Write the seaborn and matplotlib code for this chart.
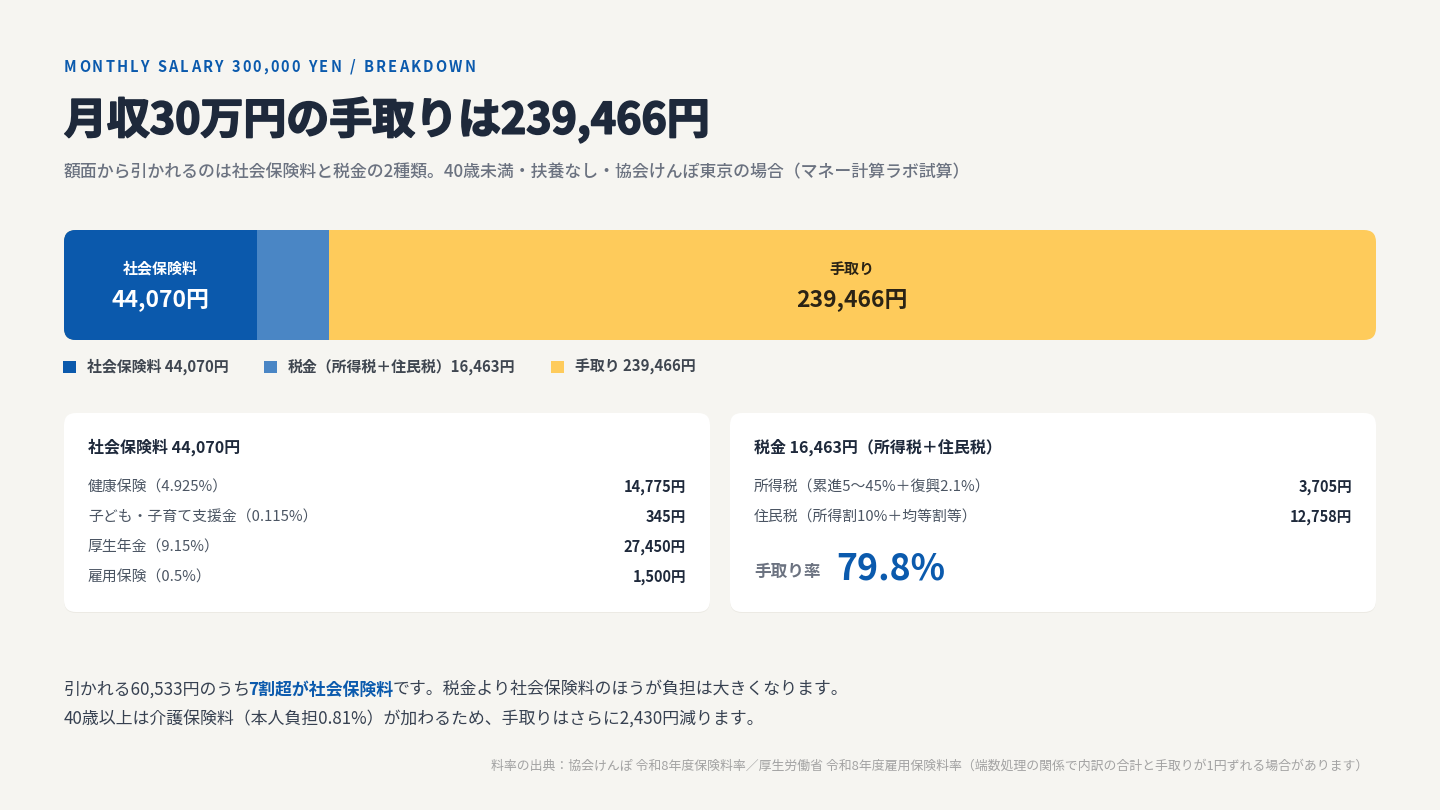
import pandas as pd
import seaborn as sns
import matplotlib.pyplot as plt
import matplotlib.patheffects as pe
from matplotlib.patches import FancyBboxPatch, Patch

sns.set_theme(style='white')
plt.rcParams['font.family'] = ['Noto Sans CJK JP', 'DejaVu Sans']

# data
segments = ['社会保険料', '税金', '手取り']
amounts = [44070, 16463, 239466]
legend_labels = ['社会保険料 44,070円', '税金（所得税＋住民税）16,463円', '手取り 239,466円']
colors = ['#0B59AC', '#4A86C5', '#FECB5B']

shakai_items = ['健康保険（4.925%）', '子ども・子育て支援金（0.115%）', '厚生年金（9.15%）', '雇用保険（0.5%）']
shakai_values = [14775, 345, 27450, 1500]
tax_items = ['所得税（累進5〜45%＋復興2.1%）', '住民税（所得割10%＋均等割等）']
tax_values = [3705, 12758]
net_rate = 79.8

BG = '#F6F5F1'
NAVY = '#1E293B'
BLUE = '#0B5AAD'
GRAY = '#6B7280'
TEXT = '#374151'

fig = plt.figure(figsize=(14.4, 8.1), dpi=100, facecolor=BG)

# overlay axes in pixel units
ax = fig.add_axes([0, 0, 1, 1], zorder=2)
ax.set_xlim(0, 1440)
ax.set_ylim(810, 0)
ax.axis('off')
ax.patch.set_alpha(0)

# ---- header
def spaced(x, y, s, spacing, **kw):
    prev = None
    gap = 0
    for ch in s:
        if ch == ' ':
            gap += 4.5
            continue
        if prev is None:
            prev = ax.text(x, y, ch, va='center', ha='left', **kw)
        else:
            prev = ax.annotate(ch, xy=(1, 0.5), xycoords=prev, xytext=(spacing + gap, 0),
                               textcoords='offset points', va='center', ha='left', **kw)
        gap = 0

spaced(64, 67, 'MONTHLY SALARY 300,000 YEN / BREAKDOWN', 1.55,
       fontsize=10.5, fontweight='bold', color=BLUE)
ax.text(64, 120, '月収30万円の手取りは239,466円', fontsize=30.9, fontweight='bold',
        color=NAVY, va='center', ha='left',
        path_effects=[pe.Stroke(linewidth=1.3, foreground=NAVY), pe.Normal()])
ax.text(64, 172, '額面から引かれるのは社会保険料と税金の2種類。40歳未満・扶養なし・協会けんぽ東京の場合（マネー計算ラボ試算）',
        fontsize=12.2, fontweight='medium', color=GRAY, va='center', ha='left')

# ---- stacked bar
bax = fig.add_axes([64 / 1440, (810 - 340) / 810, 1312 / 1440, 110 / 810], zorder=1)
df = pd.DataFrame({'segment': segments, 'amount': amounts})
df['end'] = df['amount'].cumsum()
df['start'] = df['end'] - df['amount']
for i in reversed(range(len(df))):
    sns.barplot(x=[df['end'][i]], y=['月収'], color=colors[i], saturation=1,
                width=1, orient='h', linewidth=0, ax=bax)
bax.set_xlim(0, df['end'].iloc[-1])
bax.set_ylim(0.5, -0.5)
bax.axis('off')
clip = FancyBboxPatch((64, 230), 1312, 110, boxstyle='round,pad=0,rounding_size=12',
                      transform=ax.transData)
for p in bax.patches:
    p.set_clip_path(clip)

for i, row in df.iterrows():
    if row['segment'] == '税金':
        continue
    c = 'white' if i == 0 else '#2A2315'
    mid = row['start'] + row['amount'] / 2
    bax.text(mid, -0.15, row['segment'], color=c, fontsize=10.8, fontweight='bold',
             ha='center', va='center')
    bax.text(mid, 0.13, f"{row['amount']:,}円", color=c, fontsize=16.5, fontweight='bold',
             ha='center', va='center')

# ---- legend
handles = [Patch(facecolor=c, edgecolor='none') for c in colors]
fig.legend(handles, legend_labels, loc='center left', bbox_to_anchor=(63 / 1440, 1 - 367 / 810),
           ncol=3, frameon=False, handlelength=0.87, handleheight=0.87, handletextpad=0.72,
           columnspacing=2.4, borderpad=0, borderaxespad=0, labelcolor='#3F4650',
           prop={'size': 10.75, 'weight': 'bold'})

# ---- cards
for x0 in (64, 730):
    ax.add_patch(FancyBboxPatch((x0, 414), 646, 199, boxstyle='round,pad=0,rounding_size=12',
                                facecolor='#ECEAE4', edgecolor='none', zorder=1))
    ax.add_patch(FancyBboxPatch((x0, 413), 646, 199, boxstyle='round,pad=0,rounding_size=12',
                                facecolor='white', edgecolor='none', zorder=2))

ax.text(88, 453, f'社会保険料 {sum(shakai_values):,}円', fontsize=11.5, fontweight='bold',
        color=NAVY, va='baseline', ha='left', zorder=3)
for i, (name, v) in enumerate(zip(shakai_items, shakai_values)):
    y = 492 + 30 * i
    ax.text(88, y, name, fontsize=10.7, color='#4B5563', va='baseline', ha='left', zorder=3)
    ax.text(686, y, f'{v:,}円', fontsize=10.5, fontweight='bold', color=NAVY,
            va='baseline', ha='right', zorder=3)

ax.text(754, 453, f'税金 {sum(tax_values):,}円（所得税＋住民税）', fontsize=11.5, fontweight='bold',
        color=NAVY, va='baseline', ha='left', zorder=3)
for i, (name, v) in enumerate(zip(tax_items, tax_values)):
    y = 492 + 30 * i
    ax.text(754, y, name, fontsize=10.7, color='#4B5563', va='baseline', ha='left', zorder=3)
    ax.text(1352, y, f'{v:,}円', fontsize=10.5, fontweight='bold', color=NAVY,
            va='baseline', ha='right', zorder=3)

ax.text(754, 577, '手取り率', fontsize=12, fontweight='bold', color=GRAY,
        va='baseline', ha='left', zorder=3)
ax.text(836, 579, f'{net_rate}%', fontsize=25.7, fontweight='bold', color=BLUE,
        va='baseline', ha='left', zorder=3)

# ---- footer notes
t1 = ax.text(64, 690, f'引かれる{amounts[0] + amounts[1]:,}円のうち', fontsize=12.2, color=TEXT,
             va='center', ha='left')
t2 = ax.annotate('7割超が社会保険料', xy=(1, 0.5), xycoords=t1, xytext=(-2.5, 0),
                 textcoords='offset points', fontsize=12.2, color=BLUE,
                 fontweight='bold', va='center', ha='left')
ax.annotate('です。税金より社会保険料のほうが負担は大きくなります。', xy=(1, 0.5), xycoords=t2,
            fontsize=12.2, color=TEXT, va='center', ha='left')
ax.text(64, 720, '40歳以上は介護保険料（本人負担0.81%）が加わるため、手取りはさらに2,430円減ります。',
        fontsize=12.2, color=TEXT, va='center', ha='left')

ax.text(1368, 766, '料率の出典：協会けんぽ 令和8年度保険料率／厚生労働省 令和8年度雇用保険料率（端数処理の関係で内訳の合計と手取りが1円ずれる場合があります）',
        fontsize=9.3, color='#A3A3A3', va='center', ha='right')

fig.savefig('out.png', dpi=100, facecolor=BG)
